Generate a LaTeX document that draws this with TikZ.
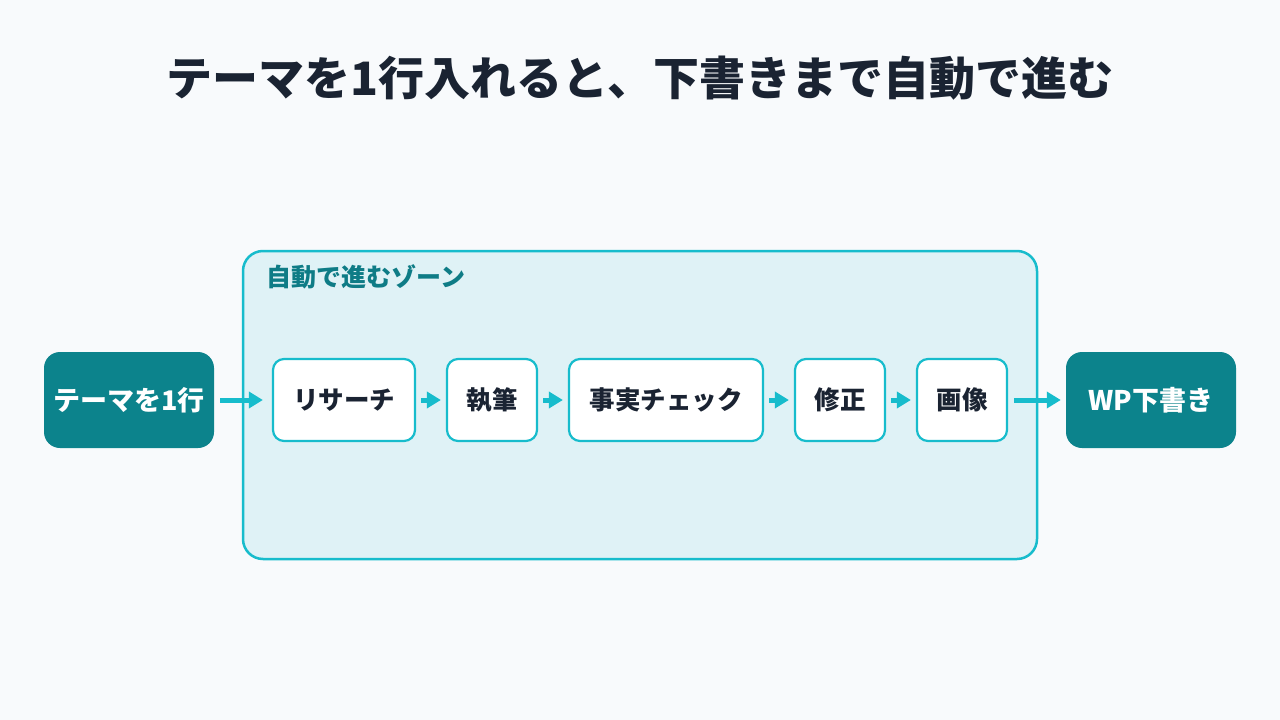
\documentclass[tikz,border=0pt]{standalone}
\usepackage{fontspec}
\setmainfont{Noto Sans CJK JP}
\usetikzlibrary{arrows.meta}
\definecolor{bg}{HTML}{F8FAFC}
\definecolor{titlec}{HTML}{1A2332}
\definecolor{zonefill}{HTML}{DFF2F6}
\definecolor{cyanc}{HTML}{17BCCC}
\definecolor{tealc}{HTML}{0C838C}
\definecolor{zonetext}{HTML}{0E7C86}
\tikzset{
  endbox/.style={draw=none, fill=tealc, rounded corners=16pt, minimum width=170pt, minimum height=96pt, text=white, font=\bfseries\fontsize{27}{32}\selectfont, inner sep=0pt},
  stepbox/.style={draw=cyanc, line width=2.2pt, fill=white, rounded corners=11pt, minimum height=82pt, text=titlec, font=\bfseries\fontsize{25.5}{30}\selectfont, inner sep=0pt},
  flow/.style={draw=cyanc, line width=5pt, -{Triangle[length=14pt,width=16pt]}, shorten <=0pt},
}
\begin{document}
\begin{tikzpicture}[x=1pt,y=-1pt]
\fill[bg] (0,0) rectangle (1280,720);
\useasboundingbox (0,0) rectangle (1280,720);
\node[font=\bfseries\fontsize{46}{54}\selectfont, text=titlec] (title) at (640,78) {テーマを1行入れると、下書きまで自動で進む};
\draw[cyanc, line width=2.5pt, fill=zonefill, rounded corners=20pt] (243,251) rectangle (1037,559);
\node[anchor=west, font=\bfseries\fontsize{25}{30}\selectfont, text=zonetext] (zlabel) at (263,277) {自動で進むゾーン};
\node[endbox] (in) at (129,400) {テーマを1行};
\node[endbox] (out) at (1151,400) {WP下書き};
\node[stepbox, minimum width=142pt] (s1) at (344,400) {リサーチ};
\node[stepbox, minimum width=90pt] (s2) at (492,400) {執筆};
\node[stepbox, minimum width=194pt] (s3) at (666,400) {事実チェック};
\node[stepbox, minimum width=90pt] (s4) at (840,400) {修正};
\node[stepbox, minimum width=90pt] (s5) at (962,400) {画像};
\draw[flow] ([xshift=6pt]in.east) -- ([xshift=-9pt]s1.west);
\draw[flow] ([xshift=5pt]s1.east) -- ([xshift=-5pt]s2.west);
\draw[flow] ([xshift=5pt]s2.east) -- ([xshift=-5pt]s3.west);
\draw[flow] ([xshift=5pt]s3.east) -- ([xshift=-5pt]s4.west);
\draw[flow] ([xshift=5pt]s4.east) -- ([xshift=-5pt]s5.west);
\draw[flow] ([xshift=6pt]s5.east) -- ([xshift=-5pt]out.west);
\end{tikzpicture}
\end{document}
